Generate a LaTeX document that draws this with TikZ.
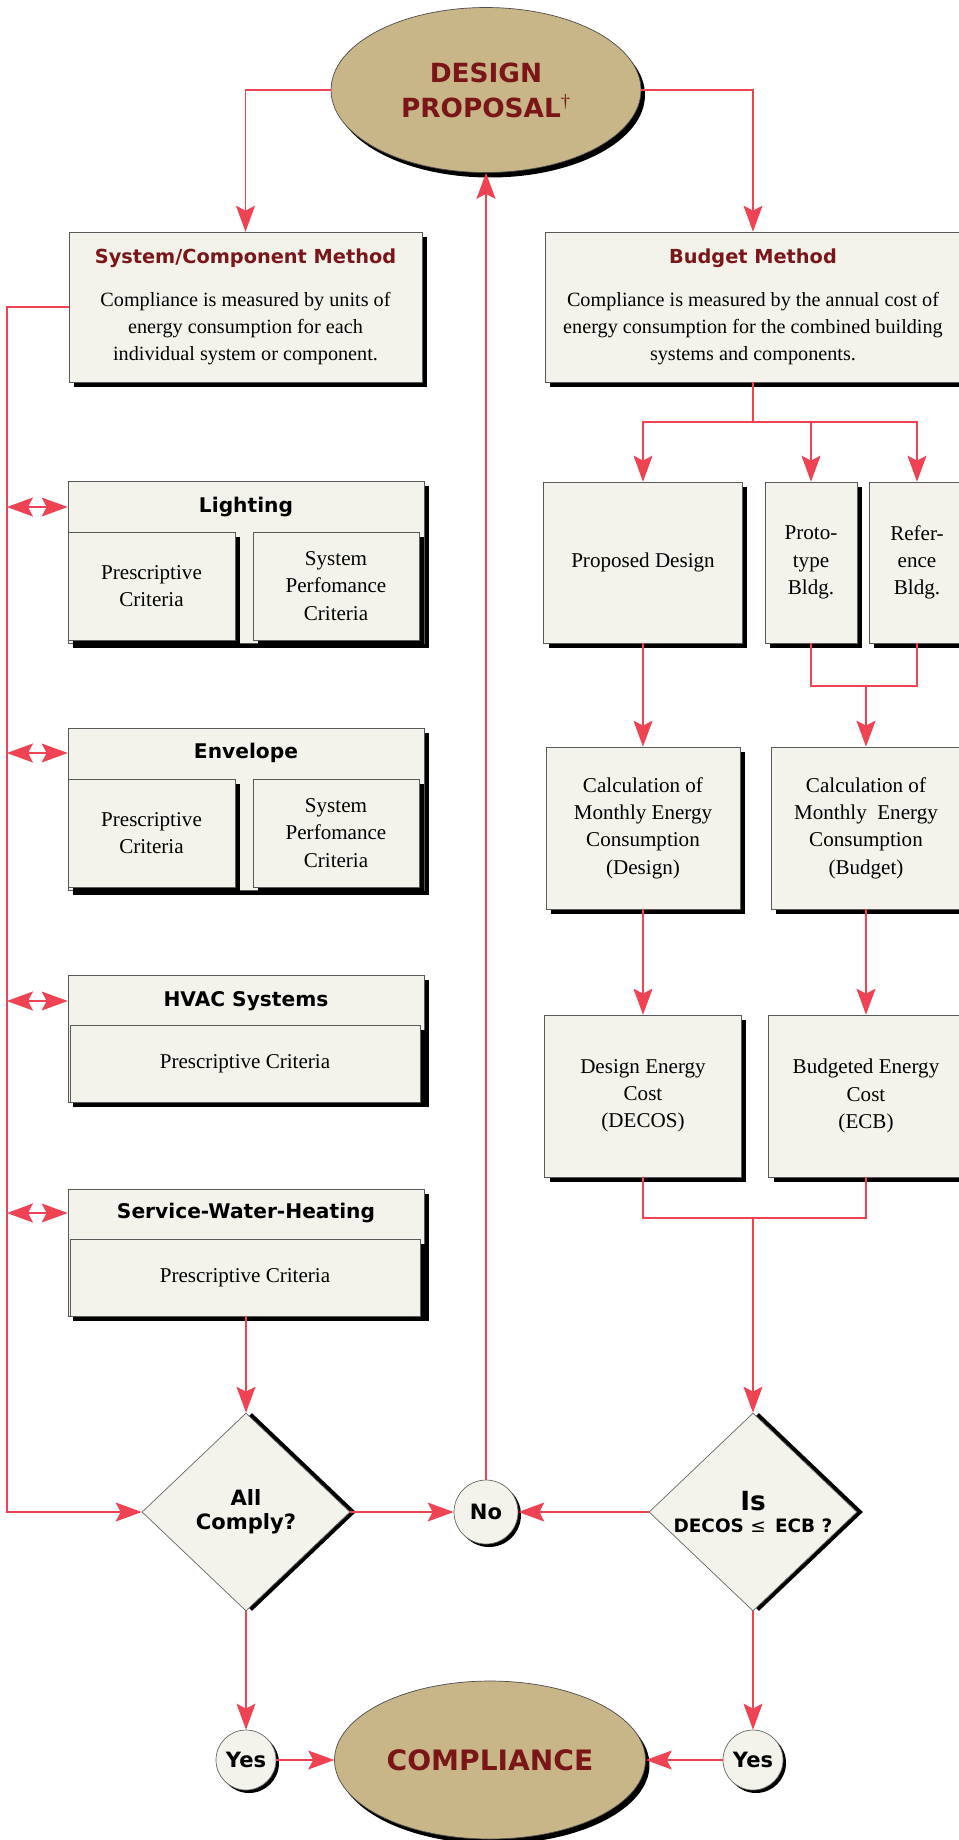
\documentclass[tikz,border=0pt]{standalone}
\usepackage{fontspec}
\setmainfont{Liberation Serif}
\newfontfamily\headfont{DejaVu Sans}
\usetikzlibrary{arrows.meta,shapes.geometric,shadows}
\definecolor{cardfill}{HTML}{F3F3EC}
\definecolor{ovalfill}{HTML}{C9B688}
\definecolor{titlered}{HTML}{7A1518}
\definecolor{flowred}{HTML}{EF4252}

\begin{document}
\begin{tikzpicture}[
        x=0.02cm, y=-0.02cm,
        flowline/.style={draw=flowred, line width=0.7pt},
        flow/.style={flowline, -{Stealth[length=5.2mm, width=3.8mm, inset=1mm]}},
        flowboth/.style={flowline, {Stealth[length=5.2mm, width=3.8mm, inset=1mm]}-{Stealth[length=5.2mm, width=3.8mm, inset=1mm]}},
        cardbox/.style={draw=black!65, line width=0.4pt, fill=cardfill, inner sep=2pt, align=center,
            font=\fontsize{12}{15.5}\selectfont,
            drop shadow={shadow xshift=0.1cm, shadow yshift=-0.1cm, fill=black, opacity=1}},
        ovalbox/.style={ellipse, draw=black!70, fill=ovalfill, inner sep=0pt, align=center, text=titlered,
            drop shadow={shadow xshift=0.08cm, shadow yshift=-0.1cm, fill=black, opacity=1}},
        decision/.style={diamond, draw=black!60, line width=0.4pt, fill=cardfill, inner sep=0pt, align=center,
            minimum width=4.16cm, minimum height=3.96cm,
            drop shadow={shadow xshift=0.12cm, shadow yshift=0cm, fill=black, opacity=1}},
        answer/.style={circle, draw=black!60, fill=cardfill, inner sep=0pt,
            font=\headfont\bfseries\fontsize{12}{12}\selectfont,
            drop shadow={shadow xshift=0.06cm, shadow yshift=-0.06cm, fill=black, opacity=1}},
        headtext/.style={font=\headfont\bfseries\fontsize{11.5}{13}\selectfont, inner sep=0pt}
    ]
        \path[use as bounding box] (0,0) rectangle (959,1840);
        \clip (0,0) rectangle (959,1840);

        % 1. Design proposal
        \node[ovalbox, minimum width=6.2cm, minimum height=3.3cm, font=\headfont\bfseries\fontsize{15}{20}\selectfont]
            (prop) at (486,90) {DESIGN\\PROPOSAL\textsuperscript{\normalfont\textdagger}};

        % 2. The two methods
        \node[cardbox, minimum width=7.06cm, minimum height=3cm, font=\fontsize{11.5}{15.3}\selectfont] (sys) at (245.5,307) {
            {\headfont\bfseries\color{titlered}\fontsize{11}{13}\selectfont System/Component Method}\\[9pt]
            Compliance is measured by units of\\
            energy consumption for each\\
            individual system or component.
        };
        \node[cardbox, minimum width=8.32cm, minimum height=3cm, font=\fontsize{11.5}{15.3}\selectfont] (budget) at (753,307) {
            {\headfont\bfseries\color{titlered}\fontsize{11}{13}\selectfont Budget Method}\\[9pt]
            Compliance is measured by the annual cost of\\
            energy consumption for the combined building\\
            systems and components.
        };

        % 3. Components (left column)
        \node[cardbox, minimum width=7.12cm, minimum height=3.24cm] (light) at (246,562) {};
        \node[headtext] (lighttitle) at (246,507) {Lighting};
        \node[cardbox, minimum width=3.34cm, minimum height=2.16cm] (lightpres) at (151.5,586) {Prescriptive\\Criteria};
        \node[cardbox, minimum width=3.32cm, minimum height=2.16cm] (lightperf) at (336,586) {System\\Perfomance\\Criteria};

        \node[cardbox, minimum width=7.12cm, minimum height=3.24cm] (env) at (246,809) {};
        \node[headtext] (envtitle) at (246,753) {Envelope};
        \node[cardbox, minimum width=3.34cm, minimum height=2.16cm] (envpres) at (151.5,833) {Prescriptive\\Criteria};
        \node[cardbox, minimum width=3.32cm, minimum height=2.16cm] (envperf) at (336,833) {System\\Perfomance\\Criteria};

        \node[cardbox, minimum width=7.12cm, minimum height=2.54cm] (hvac) at (246,1038.5) {};
        \node[headtext] (hvactitle) at (246,1001) {HVAC Systems};
        \node[cardbox, minimum width=7cm, minimum height=1.54cm] (hvacpres) at (245,1063.5) {Prescriptive Criteria};

        \node[cardbox, minimum width=7.12cm, minimum height=2.54cm] (swh) at (246,1252.5) {};
        \node[headtext] (swhtitle) at (246,1213) {Service-Water-Heating};
        \node[cardbox, minimum width=7cm, minimum height=1.54cm] (swhpres) at (245,1277.5) {Prescriptive Criteria};

        % 4. Budget calculation (right column)
        \node[cardbox, minimum width=3.98cm, minimum height=3.22cm] (pdes) at (643,562.5) {Proposed Design};
        \node[cardbox, minimum width=1.84cm, minimum height=3.22cm] (proto) at (811,562.5) {Proto-\\type\\Bldg.};
        \node[cardbox, minimum width=1.92cm, minimum height=3.22cm] (refb) at (917,562.5) {Refer-\\ence\\Bldg.};

        \node[cardbox, minimum width=3.88cm, minimum height=3.24cm] (calcd) at (643,828) {Calculation of\\Monthly Energy\\Consumption\\(Design)};
        \node[cardbox, minimum width=3.8cm, minimum height=3.24cm] (calcb) at (866,828) {Calculation of\\Monthly\ \ Energy\\Consumption\\(Budget)};

        \node[cardbox, minimum width=3.94cm, minimum height=3.24cm] (costd) at (643,1096) {Design Energy\\Cost\\(DECOS)};
        \node[cardbox, minimum width=3.9cm, minimum height=3.24cm] (costb) at (866,1096) {Budgeted Energy\\Cost\\(ECB)};

        % 5. Decisions and results
        \node[decision, font=\headfont\bfseries\fontsize{12}{13.5}\selectfont] (allc) at (246,1512) {All\\Comply?};
        \node[decision, font=\headfont\bfseries] (decos) at (753,1512) {
            {\fontsize{15}{15}\selectfont Is}\\
            {\fontsize{10.5}{12}\selectfont\makebox[2.6cm]{DECOS {\mdseries ≤}\enspace ECB ?}}
        };
        \node[answer, minimum size=1.28cm] (no) at (486,1512) {No};
        \node[answer, minimum size=1.2cm] (yesl) at (246,1760) {Yes};
        \node[answer, minimum size=1.2cm] (yesr) at (753,1760) {Yes};
        \node[ovalbox, minimum width=6.22cm, minimum height=3.16cm, font=\headfont\bfseries\fontsize{16}{18}\selectfont]
            (comp) at (490,1760) {COMPLIANCE};

        \coordinate (railtop) at (7,307);
        \coordinate (bsplit) at (753,422);
        \coordinate (bjoin) at (864,686);
        \coordinate (cjoin) at (753,1218);

        % --- connectors ---
        \draw[flow] (prop.west) -| (sys.north);
        \draw[flow] (prop.east) -| (budget.north);

        \draw[flow] (sys.west) -- (railtop) |- (allc.west);
        \draw[flowboth] (railtop |- lighttitle) -- (light.west |- lighttitle);
        \draw[flowboth] (railtop |- envtitle) -- (env.west |- envtitle);
        \draw[flowboth] (railtop |- hvactitle) -- (hvac.west |- hvactitle);
        \draw[flowboth] (railtop |- swhtitle) -- (swh.west |- swhtitle);
        \draw[flow] (swh.south) -- (allc.north);

        \draw[flowline] (budget.south) -- (bsplit);
        \draw[flow] (bsplit) -| (pdes.north);
        \draw[flow] (bsplit) -| (proto.north);
        \draw[flow] (bsplit) -| (refb.north);

        \draw[flow] (pdes.south) -- (calcd.north);
        \draw[flowline] (proto.south) |- (bjoin);
        \draw[flowline] (refb.south) |- (bjoin);
        \draw[flow] (bjoin) -- (calcb.north |- bjoin) -- (calcb.north);

        \draw[flow] (calcd.south) -- (costd.north);
        \draw[flow] (calcb.south) -- (costb.north);
        \draw[flowline] (costd.south) |- (cjoin);
        \draw[flowline] (costb.south) |- (cjoin);
        \draw[flow] (cjoin) -- (decos.north);

        \draw[flow] (allc.east) -- (no.west);
        \draw[flow] (decos.west) -- (no.east);
        \draw[flow] (no.north) -- (prop.south);

        \draw[flow] (allc.south) -- (yesl.north);
        \draw[flow] (decos.south) -- (yesr.north);
        \draw[flow] (yesl.east) -- (comp.west);
        \draw[flow] (yesr.west) -- (comp.east);

    \end{tikzpicture}
\end{document}
